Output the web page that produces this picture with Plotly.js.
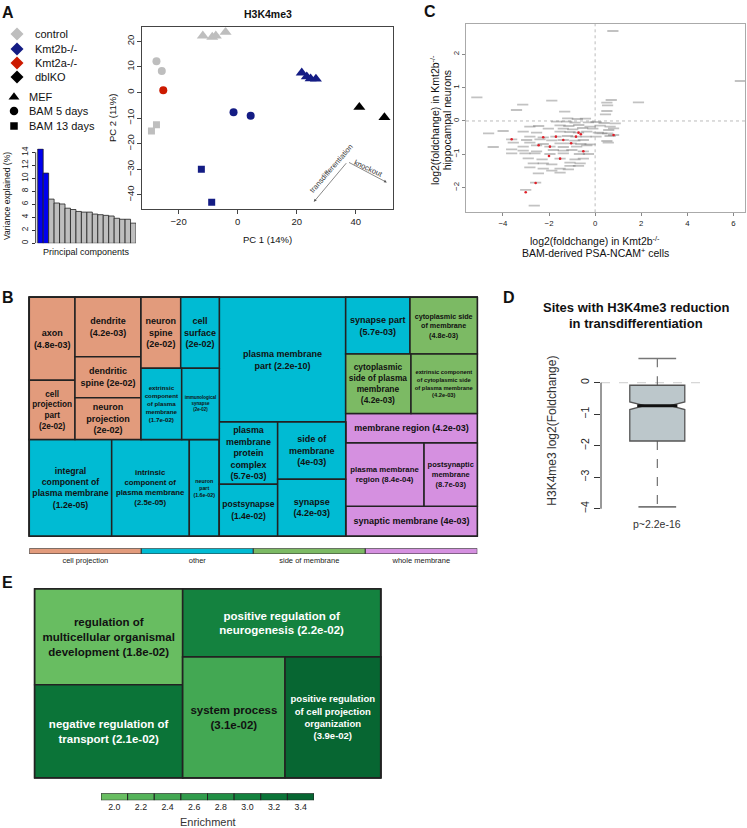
<!DOCTYPE html>
<html><head><meta charset="utf-8">
<script src="https://cdn.plot.ly/plotly-3.0.1.min.js"></script>
<style>html,body{margin:0;padding:0;background:#fff}#chart{width:747px;height:828px}</style>
</head><body><div id="chart"></div>
<script>
// ================= DATA =================
// Panel A – scree plot
const pcIndex = [1,2,3,4,5,6,7,8,9,10,11,12,13,14,15,16,17,18];
const varianceExplained = [14.5,10.8,6.8,6.2,6.05,5.4,5.2,4.9,4.8,4.8,4.5,4.4,4.3,4.2,3.85,3.7,3.7,3.1];
// Panel A – PCA
const pc1 = [-11.8,-8.6,-7.4,-4.1, -27.5,-25.7, -25.2, -29.2,-27.5, -1.4,4.4, -12.3,-8.8, 21.7,23.4,24.7,26.5, 41.2,49.7];
const pc2 = [22.2,21.7,22.2,23.6, 12.2,8.4, 0.9, -15.0,-12.6, -7.7,-9.1, -30.0,-42.9, 7.7,6.2,5.4,5.3, -5.7,-9.7];
const genotype = ['control','control','control','control','control','control','Kmt2a-/-','control','control',
  'Kmt2b-/-','Kmt2b-/-','Kmt2b-/-','Kmt2b-/-','Kmt2b-/-','Kmt2b-/-','Kmt2b-/-','Kmt2b-/-','dblKO','dblKO'];
const cellType = ['MEF','MEF','MEF','MEF','BAM 5 days','BAM 5 days','BAM 5 days','BAM 13 days','BAM 13 days',
  'BAM 5 days','BAM 5 days','BAM 13 days','BAM 13 days','MEF','MEF','MEF','MEF','MEF','MEF'];
const genotypeNames = ['control','Kmt2b-/-','Kmt2a-/-','dblKO'];
const cellTypeNames = ['MEF','BAM 5 days','BAM 13 days'];
// Panel C – gene fold changes (labelled genes, labels unreadable at this size)
const bamFC = [-1.19,-0.77,-0.42,-1.67,-1.23,-0.87,-0.29,0.04,0.39,-2.45,-1.52,-1.14,-0.71,-0.22,0.22,0.65,-2.03,-1.38,-0.97,-0.54,-0.10,0.59,
  -3.12,-2.54,-1.52,-1.09,-0.72,-0.36,0.14,0.54,-2.83,-2.25,-1.70,-1.20,-0.83,-0.39,0.04,0.65,-3.62,-2.97,-2.39,-1.88,-1.38,-0.88,-0.51,0.51,
  -3.55,-2.83,-2.25,-1.52,-1.04,-0.62,-0.22,0.57,-3.12,-2.54,-1.96,-1.38,-0.80,-0.36,-3.62,-3.12,-2.54,-1.81,-1.38,-1.01,-0.51,
  -3.62,-3.04,-2.61,-1.96,-1.38,-0.68,-0.29,-2.90,-2.30,-1.52,-0.87,-0.51,-2.68,-2.25,-1.88,-1.09,-0.65,-2.83,-2.25,-1.52,-1.09,-0.72,
  -1.88,-1.52,-1.16,
  0.77,6.30,-5.13,-3.14,-1.88,-3.41,1.88,0.70,0.51,0.54,0.51,0.45,-1.32,-4.62,-3.99,-4.42,-2.83,-2.64,-2.58,-3.01,-2.46,0.87,0.80,0.29,0.80];
const hippoFC = [0.08,0.06,0.07,-0.02,-0.02,-0.05,-0.04,-0.03,-0.06,-0.15,-0.13,-0.15,-0.12,-0.17,-0.14,-0.17,-0.23,-0.23,-0.25,-0.21,-0.23,-0.27,
  -0.32,-0.35,-0.32,-0.33,-0.35,-0.32,-0.35,-0.37,-0.47,-0.49,-0.47,-0.45,-0.47,-0.47,-0.47,-0.45,-0.55,-0.57,-0.55,-0.58,-0.57,-0.59,-0.57,-0.60,
  -0.65,-0.65,-0.69,-0.67,-0.67,-0.69,-0.70,-0.65,-0.77,-0.73,-0.77,-0.78,-0.77,-0.73,-0.85,-0.89,-0.91,-0.87,-0.89,-0.87,-0.91,
  -0.97,-0.97,-0.97,-0.99,-0.97,-0.99,-0.99,-1.12,-1.15,-1.13,-1.15,-1.13,-1.27,-1.27,-1.30,-1.25,-1.27,-1.39,-1.43,-1.43,-1.35,-1.35,
  -1.49,-1.55,-1.45,
  2.70,1.20,0.71,0.49,0.61,0.33,0.56,0.63,0.55,0.47,0.30,0.20,0.28,-0.37,-0.30,-0.78,-0.17,-2.54,-1.85,-2.07,-1.57,-0.07,-0.22,-0.37,-0.42];
const markedBamFC = [-2.25,-1.96,-1.38,-0.83,-0.72,-1.04,-2.45,-1.52,-3.01,-2.58,0.80,-0.51,-3.62,-1.70,-0.62,-2.00];
const markedHippoFC = [-0.49,-0.77,-0.57,-0.47,-0.35,-0.67,-0.73,-1.13,-2.14,-1.86,-0.42,-0.91,-0.55,-0.47,-0.40,-1.05];
// Panel B – GO cellular component treemap
const ccTerms = ['axon','cell projection part','dendrite','dendritic spine','neuron projection','neuron spine','cell surface',
  'extrinsic component of plasma membrane','immunological synapse','integral component of plasma membrane',
  'intrinsic component of plasma membrane','neuron part','plasma membrane part','plasma membrane protein complex','postsynapse',
  'side of membrane','synapse','synapse part','cytoplasmic side of membrane','cytoplasmic side of plasma membrane',
  'extrinsic component of cytoplasmic side of plasma membrane','membrane region','plasma membrane region','postsynaptic membrane','synaptic membrane'];
const ccLabels = ['axon<br>(4.8e-03)','cell<br>projection<br>part<br>(2e-02)','dendrite<br>(4.2e-03)','dendritic<br>spine (2e-02)',
  'neuron<br>projection<br>(2e-02)','neuron<br>spine<br>(2e-02)','cell<br>surface<br>(2e-02)',
  'extrinsic<br>component<br>of plasma<br>membrane<br>(1.7e-02)','immunological<br>synapse<br>(2e-02)',
  'integral<br>component of<br>plasma membrane<br>(1.2e-05)','intrinsic<br>component of<br>plasma membrane<br>(2.5e-05)',
  'neuron<br>part<br>(1.6e-02)','plasma membrane<br>part (2.2e-10)','plasma<br>membrane<br>protein<br>complex<br>(5.7e-03)',
  'postsynapse<br>(1.4e-02)','side of<br>membrane<br>(4e-03)','synapse<br>(4.2e-03)','synapse part<br>(5.7e-03)',
  'cytoplasmic side<br>of membrane<br>(4.8e-03)','cytoplasmic<br>side of plasma<br>membrane<br>(4.2e-03)',
  'extrinsic component<br>of cytoplasmic side<br>of plasma membrane<br>(4.2e-03)','membrane region (4.2e-03)',
  'plasma membrane<br>region (8.4e-04)','postsynaptic<br>membrane<br>(8.7e-03)','synaptic membrane (4e-03)'];
const ccSizes = [37.8,27.1,39.2,27.1,27.5,28.1,27.3,29.0,26.8,79.4,74.8,28.9,157.6,36.2,30.2,38.8,38.6,36.5,38.2,38.7,39.3,38.7,49.6,33.7,39.1];
const ccGroups = ['cell projection','cell projection','cell projection','cell projection','cell projection','cell projection',
  'other','other','other','other','other','other','other','other','other','other','other','other',
  'side of membrane','side of membrane','side of membrane','whole membrane','whole membrane','whole membrane','whole membrane'];
const ccGroupNames = ['cell projection','other','side of membrane','whole membrane'];
// Panel D – boxplot statistics
const boxLowerWhisker = [-3.94];
const boxQ1 = [-1.85];
const boxMedian = [-0.73];
const boxQ3 = [-0.08];
const boxUpperWhisker = [0.77];
const boxNotchSpan = [0.12];
const boxPValue = 'p~2.2e-16';
// Panel E – GO biological process treemap
const bpTerms = ['regulation of multicellular organismal development','negative regulation of transport',
  'positive regulation of neurogenesis','system process','positive regulation of cell projection organization'];
const bpLabels = ['regulation of<br>multicellular organismal<br>development (1.8e-02)','negative regulation of<br>transport (2.1e-02)',
  'positive regulation of<br>neurogenesis (2.2e-02)','system process<br>(3.1e-02)',
  'positive regulation<br>of cell projection<br>organization<br>(3.9e-02)'];
const bpSizes = [141.6,137.6,134.6,123.5,115.5];
const bpEnrichment = [2.0,3.2,3.0,2.4,3.4];
const enrichBins = [2.0,2.2,2.4,2.6,2.8,3.0,3.2,3.4];

// ================= STYLE / LAYOUT =================
const W = 747, H = 828;
const FONT = 'Liberation Sans, Arial, Helvetica, sans-serif';
const px = v => v / W, py = v => 1 - v / H;
const genoColor = {'control':'#BEBEBE','Kmt2b-/-':'#141C84','Kmt2a-/-':'#CC1A00','dblKO':'#000000'};
const cellSymbol = {'MEF':'triangle-up','BAM 5 days':'circle','BAM 13 days':'square'};
const cellSize = {'MEF':10.5,'BAM 5 days':8,'BAM 13 days':7};
const groupColor = {'cell projection':'#E29B7C','other':'#00BBD3','side of membrane':'#7CBA64','whole membrane':'#D590E0'};
const binColors = ['#68BD61','#55B35A','#43A853','#319C4C','#218F45','#14823F','#0B7438','#076632'];
const ccFont = {'extrinsic component of plasma membrane':6.2,'immunological synapse':4.8,'intrinsic component of plasma membrane':7.8,
  'neuron part':5.3,'cytoplasmic side of membrane':7.2,'extrinsic component of cytoplasmic side of plasma membrane':5.8,
  'plasma membrane region':7.8,'postsynaptic membrane':7.5};
// nested arrangement: levels alternate left-right / top-bottom splitting
const ccArrangement = [
  [
    [ ['axon','cell projection part'], ['dendrite','dendritic spine','neuron projection'],
      [ ['neuron spine','cell surface'], ['extrinsic component of plasma membrane','immunological synapse'] ] ],
    ['integral component of plasma membrane','intrinsic component of plasma membrane','neuron part']
  ],
  [ 'plasma membrane part', [ ['plasma membrane protein complex','postsynapse'], ['side of membrane','synapse'] ] ],
  [ ['synapse part','cytoplasmic side of membrane'],
    ['cytoplasmic side of plasma membrane','extrinsic component of cytoplasmic side of plasma membrane'],
    'membrane region', ['plasma membrane region','postsynaptic membrane'], 'synaptic membrane' ]
];
const bpArrangement = [
  ['regulation of multicellular organismal development','negative regulation of transport'],
  ['positive regulation of neurogenesis', ['system process','positive regulation of cell projection organization']]
];

function binColor(e){ const i = Math.max(0, Math.min(enrichBins.length-1, Math.round((e-enrichBins[0])/0.2))); return binColors[i]; }

function buildTree(arr, prefix, leaf){
  const out = {ids:[],labels:[],parents:[],values:[],text:[],colors:[],fsize:[],fcolor:[]};
  let k = 0;
  (function walk(node, parent){
    if (typeof node === 'string'){
      const d = leaf(node);
      out.ids.push(node); out.labels.push(node); out.parents.push(parent); out.values.push(d.value); out.text.push('<b>'+d.text+'</b>');
      out.colors.push(d.color); out.fsize.push(d.size); out.fcolor.push(d.fcolor);
    } else {
      const id = prefix + '_' + (k++);
      out.ids.push(id); out.labels.push(id); out.parents.push(parent); out.values.push(0); out.text.push('');
      out.colors.push('#ffffff'); out.fsize.push(8); out.fcolor.push('#000');
      node.forEach(ch => walk(ch, id));
    }
  })(arr, '');
  return out;
}

const ccTree = buildTree(ccArrangement, 'cc', name => {
  const i = ccTerms.indexOf(name);
  return {value: ccSizes[i], text: ccLabels[i], color: groupColor[ccGroups[i]], size: ccFont[name] || 9, fcolor:'#111'};
});
const bpTree = buildTree(bpArrangement, 'bp', name => {
  const i = bpTerms.indexOf(name);
  return {value: bpSizes[i], text: bpLabels[i], color: binColor(bpEnrichment[i]),
    size: name.indexOf('cell projection') >= 0 ? 9.5 : 11.5, fcolor: bpEnrichment[i] >= 2.8 ? '#ffffff' : '#111'};
});

function treemap(t, domain, lw){
  return {type:'treemap', ids:t.ids, labels:t.labels, parents:t.parents, values:t.values, text:t.text,
    branchvalues:'remainder', sort:false, textinfo:'text', textposition:'middle center',
    textfont:{family:FONT, size:t.fsize, color:t.fcolor},
    marker:{colors:t.colors, line:{color:'#222', width:lw}, pad:{t:0,l:0,r:0,b:0}, depthfade:false},
    leaf:{opacity:1}, tiling:{packing:'slice-dice', pad:0}, pathbar:{visible:false},
    domain:domain, hoverinfo:'skip'};
}

const traces = [];
// Scree
traces.push({type:'bar', x:pcIndex, y:varianceExplained, width:1, xaxis:'x', yaxis:'y',
  marker:{color:pcIndex.map(p => p <= 2 ? '#0000EE' : '#BEBEBE'), line:{color:'#222', width:0.8}}, hoverinfo:'skip'});
// PCA
traces.push({type:'scatter', mode:'markers', x:pc1, y:pc2, xaxis:'x2', yaxis:'y2',
  marker:{color:genotype.map(g => genoColor[g]), symbol:cellType.map(c => cellSymbol[c]), size:cellType.map(c => cellSize[c]),
    opacity:1, line:{width:0}}, hoverinfo:'skip'});
// C
traces.push({type:'scatter', mode:'markers', x:bamFC, y:hippoFC, xaxis:'x3', yaxis:'y3',
  marker:{symbol:'line-ew', size:8, opacity:1, line:{width:1.8, color:'rgba(110,110,110,0.42)'}}, hoverinfo:'skip'});
traces.push({type:'scatter', mode:'markers', x:markedBamFC, y:markedHippoFC, xaxis:'x3', yaxis:'y3',
  marker:{color:'#E0202A', size:2.6, opacity:1}, hoverinfo:'skip'});
// B group key
traces.push({type:'bar', x:ccGroupNames, y:ccGroupNames.map(() => 1), width:1, xaxis:'x4', yaxis:'y4',
  marker:{color:ccGroupNames.map(g => groupColor[g]), line:{color:'#333', width:1}}, hoverinfo:'skip'});
// D box
const BOXW = 0.977, NOTCHW = 0.27, CAP = 0.335;
traces.push({type:'box', x:[0], q1:boxQ1, median:boxMedian, q3:boxQ3, lowerfence:boxQ1, upperfence:boxQ3,
  notched:true, notchspan:boxNotchSpan, notchwidth:NOTCHW, width:BOXW, whiskerwidth:0, boxpoints:false,
  fillcolor:'#BCC7CB', line:{color:'#555', width:1.3}, xaxis:'x5', yaxis:'y5', hoverinfo:'skip'});
const seg = (xs, ys, color, w, dash) => ({type:'scatter', mode:'lines', x:xs, y:ys, xaxis:'x5', yaxis:'y5',
  line:{color, width:w, dash:dash||'solid'}, hoverinfo:'skip'});
traces.push(seg([0,0],[boxQ3[0],boxUpperWhisker[0]],'#555',1,'dash'));
traces.push(seg([0,0],[boxQ1[0],boxLowerWhisker[0]],'#555',1,'dash'));
traces.push(seg([-CAP,CAP],[boxUpperWhisker[0],boxUpperWhisker[0]],'#777',1.6));
traces.push(seg([-CAP,CAP],[boxLowerWhisker[0],boxLowerWhisker[0]],'#777',1.6));
const inner = BOXW/2*(1-NOTCHW);
traces.push(seg([-inner,inner],[boxMedian[0],boxMedian[0]],'#111',3.2));
// E colour key
traces.push({type:'bar', x:enrichBins, y:enrichBins.map(() => 1), width:0.2, xaxis:'x6', yaxis:'y6',
  marker:{color:enrichBins.map(binColor), line:{color:'#222', width:1}}, hoverinfo:'skip'});
// A legend key (page-pixel overlay)
const legY = [34,49,63,77,97,111,126];
traces.push({type:'scatter', mode:'markers', xaxis:'x7', yaxis:'y7',
  x:[17,17,17,17,14,14,14], y:legY,
  marker:{symbol:['diamond','diamond','diamond','diamond','triangle-up','circle','square'],
    color:[...genotypeNames.map(g => genoColor[g]),'#000','#000','#000'], size:[10,10,10,10,9.5,8.5,7.5], opacity:1, line:{width:0}},
  hoverinfo:'skip'});
// treemaps
traces.push(treemap(ccTree, {x:[px(29.3),px(477.3)], y:[py(536),py(297.3)]}, 1.5));
traces.push(treemap(bpTree, {x:[px(34.7),px(380.7)], y:[py(777.7),py(589)]}, 1.6));

// annotations in page pixels
const ann = (text, x, y, size, o) => Object.assign({text, x, y, xref:'x7', yref:'y7', showarrow:false,
  font:{family:FONT, size, color:'#111'}, xanchor:'center', yanchor:'middle'}, o||{});
const annotations = [
  ann('<b>A</b>',7.5,12,16), ann('<b>B</b>',7.5,297.5,16), ann('<b>C</b>',430,11,16),
  ann('<b>D</b>',508.5,297.5,16), ann('<b>E</b>',7,582,16),
  ann('<b>H3K4me3</b>',267.5,14,10.5),
  ann('Principal components',86,252,9),
  ann('Variance explained (%)',7,196,8.6,{textangle:-90}),
  ann('PC 1 (14%)',267.5,239.5,9.5), ann('PC 2 (11%)',112,118,9.5,{textangle:-90}),
  ann('transdifferentiation',331,168,7.5,{textangle:-49, font:{family:FONT,size:7.5,color:'#333'}}),
  ann('knockout',368.5,168.5,7.5,{textangle:25, font:{family:FONT,size:7.5,color:'#333'}}),
  ann('log2(foldchange) in Kmt2b<sup>-/-</sup>',595,240,10.5), ann('BAM-derived PSA-NCAM<sup>+</sup> cells',595,252,10.5),
  ann('log2(foldchange) in Kmt2b<sup>-/-</sup>',434,120,10.5,{textangle:-90}), ann('hippocampal neurons',447.3,120,10.5,{textangle:-90}),
  ann('<b>Sites with H3K4me3 reduction</b>',636,307.5,13), ann('<b>in transdifferentiation</b>',636,323.5,13),
  ann('H3K4me3 log2(Foldchange)',551.7,431,12,{textangle:-90, font:{family:FONT,size:12,color:'#333'}}),
  ann(boxPValue,656.7,524,10.5,{font:{family:FONT,size:10.5,color:'#333'}}),
  ann('Enrichment',208,821.5,11,{font:{family:FONT,size:11,color:'#333'}})
];
genotypeNames.forEach((g,i) => annotations.push(ann(g,33,legY[i],11,{xanchor:'left'})));
cellTypeNames.forEach((c,i) => annotations.push(ann(c,27,legY[4+i],11,{xanchor:'left'})));
// PCA arrows (tail at shared vertex)
const arrow = (hx,hy) => ({x:hx, y:hy, ax:37.2, ay:-27.0, xref:'x2', yref:'y2', axref:'x2', ayref:'y2', text:'',
  showarrow:true, arrowhead:2, arrowsize:0.8, arrowwidth:0.7, arrowcolor:'#555', standoff:0, startstandoff:0});
annotations.push(arrow(50.5,-35.1), arrow(25.8,-42.7));

const tickF = s => ({family:FONT, size:s, color:'#222'});
const base = {showgrid:false, zeroline:false, fixedrange:true};
const layout = {
  width:W, height:H, margin:{l:0,r:0,t:0,b:0}, paper_bgcolor:'#fff', plot_bgcolor:'rgba(0,0,0,0)',
  showlegend:false, hovermode:false, font:{family:FONT},
  xaxis:{...base, domain:[px(35.7),px(136)], range:[0.13,18.5], visible:false, anchor:'y'},
  yaxis:{...base, domain:[py(243.3),py(148.4)], range:[0,14.6], tickvals:[0,2,4,6,8,10,12,14], ticks:'outside', ticklen:3,
    tickcolor:'#333', tickangle:-90, tickfont:tickF(8.2), showline:false, anchor:'x'},
  xaxis2:{...base, domain:[px(142.3),px(392.7)], range:[-32.3,52.5], tickvals:[-20,0,20,40], ticks:'outside', ticklen:4,
    tickcolor:'#444', showline:true, mirror:true, linecolor:'#444', linewidth:1, tickfont:tickF(9.5), anchor:'y2'},
  yaxis2:{...base, domain:[py(209),py(27.3)], range:[-45.5,25.5], tickvals:[-40,-30,-20,-10,0,10,20], ticks:'outside', ticklen:4,
    tickcolor:'#444', tickangle:-90, showline:true, mirror:true, linecolor:'#444', linewidth:1, tickfont:tickF(9.5), anchor:'x2'},
  xaxis3:{...base, domain:[px(466),px(745)], range:[-5.6,6.5], tickvals:[-4,-2,0,2,4,6], ticks:'outside', ticklen:3,
    tickcolor:'#888', showline:true, mirror:true, linecolor:'#aaa', linewidth:1, tickfont:tickF(7.8), anchor:'y3'},
  yaxis3:{...base, domain:[py(212.3),py(24)], range:[-2.74,2.91], tickvals:[-2,-1,0,1,2], ticks:'outside', ticklen:3,
    tickcolor:'#888', tickangle:-90, showline:true, mirror:true, linecolor:'#aaa', linewidth:1, tickfont:tickF(7.8), anchor:'x3'},
  xaxis4:{...base, domain:[px(29.3),px(477.3)], type:'category', range:[-0.5,3.5], ticks:'', showline:false,
    tickfont:tickF(7.5), anchor:'y4'},
  yaxis4:{...base, domain:[py(554),py(548.3)], range:[0,1], visible:false, anchor:'x4'},
  xaxis5:{...base, domain:[px(601),px(703)], range:[-1,0.812], visible:false, anchor:'y5'},
  yaxis5:{...base, domain:[py(511.9),py(352.8)], range:[-4.1,0.95], tickvals:[0,-1,-2,-3,-4], ticks:'outside', ticklen:6.5,
    tickcolor:'#333', tickangle:-90, tickfont:tickF(10.5), showline:false, anchor:'x5'},
  xaxis6:{...base, domain:[px(101),px(314)], range:[1.9,3.5], tickvals:enrichBins, ticktext:enrichBins.map(v => v.toFixed(1)),
    ticks:'', showline:false, tickfont:tickF(8.8), anchor:'y6'},
  yaxis6:{...base, domain:[py(800.3),py(793.3)], range:[0,1], visible:false, anchor:'x6'},
  xaxis7:{...base, domain:[0,1], range:[0,W], visible:false, anchor:'y7'},
  yaxis7:{...base, domain:[0,1], range:[H,0], visible:false, anchor:'x7'},
  shapes:[
    {type:'line', xref:'x domain', yref:'y', x0:0, x1:0, y0:0, y1:14, line:{color:'#333', width:1}},
    {type:'line', xref:'x5 domain', yref:'y5', x0:0, x1:0, y0:-4, y1:0, line:{color:'#333', width:1}},
    {type:'line', xref:'x5 domain', yref:'y5', x0:0, x1:1, y0:0, y1:0, layer:'below', line:{color:'#ccc', width:1, dash:'dash'}},
    {type:'line', xref:'x3', yref:'y3 domain', x0:0, x1:0, y0:0, y1:1, layer:'below', line:{color:'#bbb', width:1, dash:'dot'}},
    {type:'line', xref:'x3 domain', yref:'y3', x0:0, x1:1, y0:0, y1:0, layer:'below', line:{color:'#bbb', width:1, dash:'dot'}}
  ],
  annotations
};
Plotly.newPlot('chart', traces, layout, {staticPlot:true, displayModeBar:false});
</script></body></html>
